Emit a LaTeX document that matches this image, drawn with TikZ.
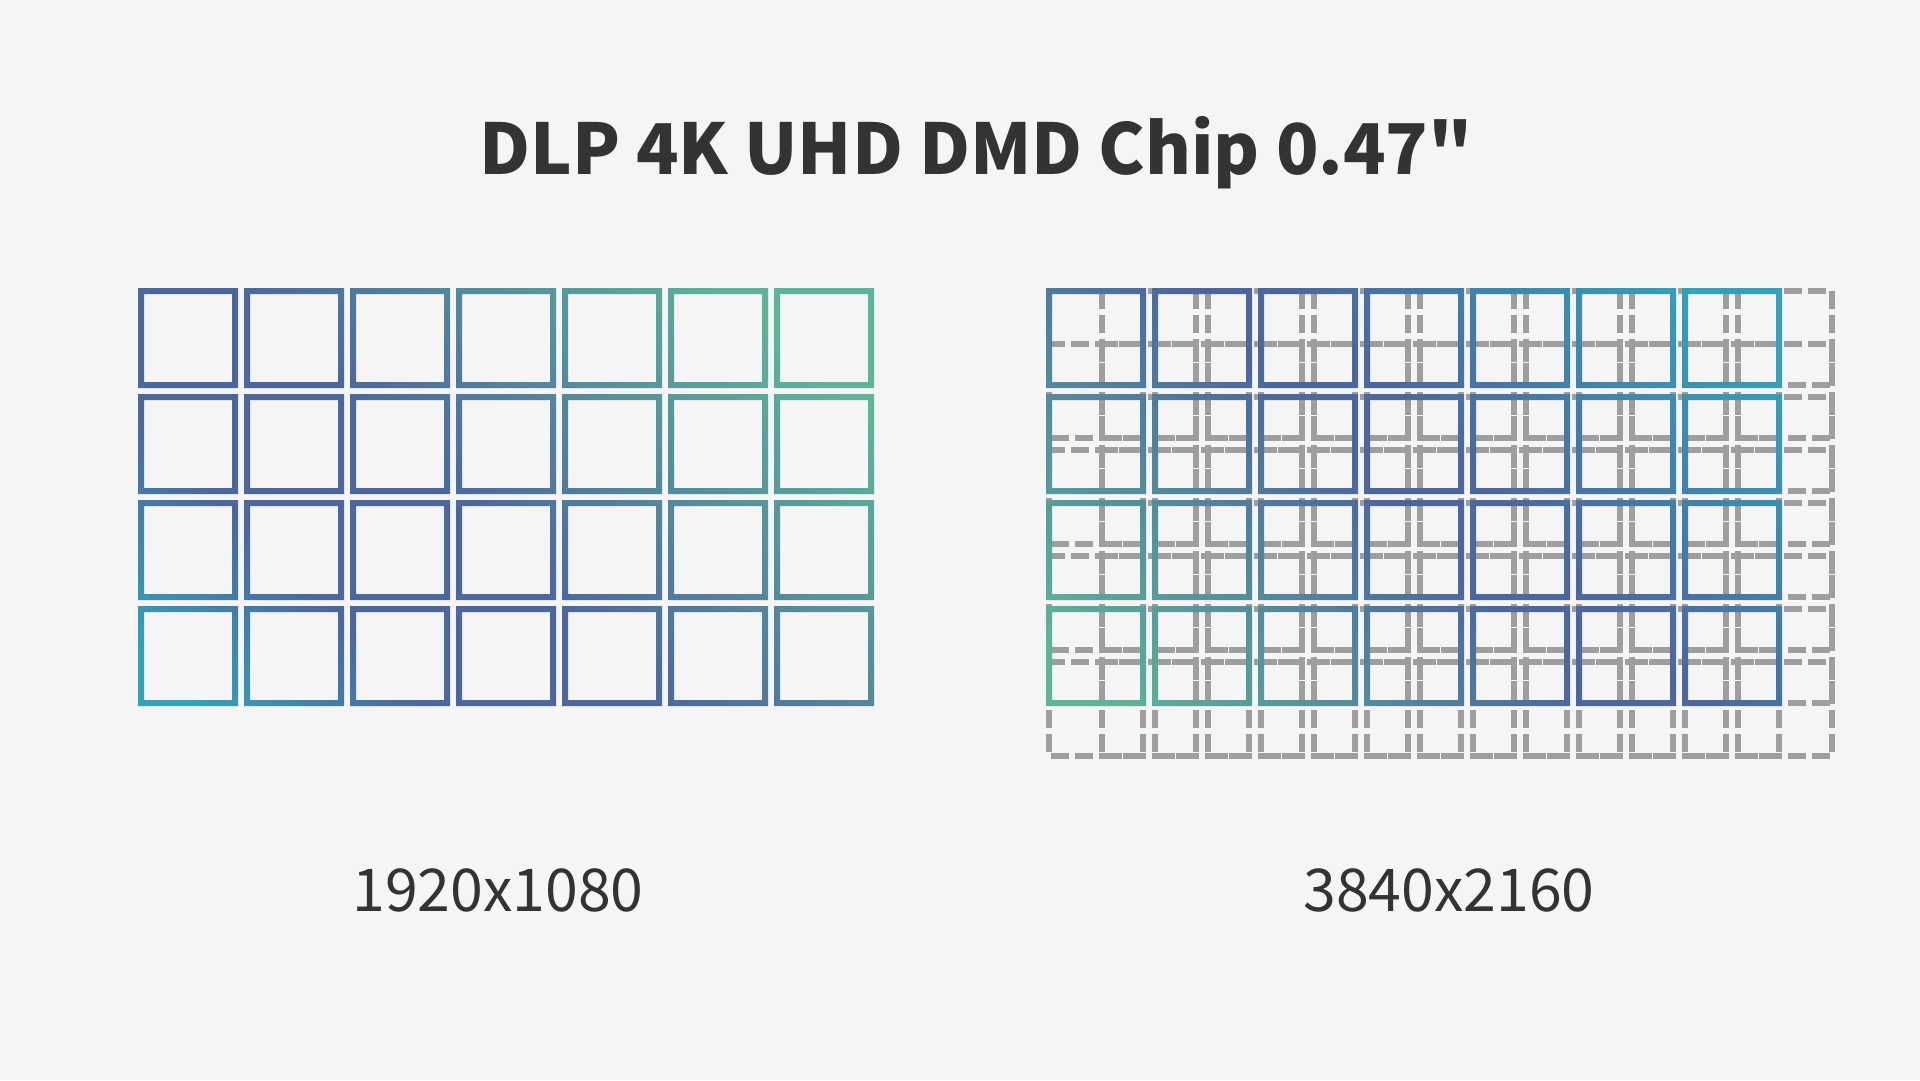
\documentclass[tikz,border=0pt]{standalone}
\usepackage{fontspec}
\newfontfamily\cjksans{Noto Sans CJK SC}
\usepackage{xcolor}
\definecolor{bgcol}{HTML}{F5F5F5}
\definecolor{inkcol}{HTML}{333333}
\definecolor{ghostcol}{HTML}{9E9E9E}
\definecolor{mirrorgreen}{HTML}{5DB49A}
\definecolor{mirrorblue}{HTML}{4C679C}
\definecolor{mirrorcyan}{HTML}{35A0B8}
\pgfdeclarehorizontalshading{lowgrad}{100bp}{color(0bp)=(mirrorgreen); color(29bp)=(mirrorgreen); color(52.8bp)=(mirrorblue); color(63.8bp)=(mirrorblue); color(74.8bp)=(mirrorcyan); color(100bp)=(mirrorcyan)}
\pgfdeclarehorizontalshading{highgrad}{100bp}{color(0bp)=(mirrorgreen); color(25.2bp)=(mirrorgreen); color(48.3bp)=(mirrorblue); color(54.4bp)=(mirrorblue); color(73.2bp)=(mirrorcyan); color(100bp)=(mirrorcyan)}

\begin{document}
\begin{tikzpicture}[
    x=1pt, y=-1pt,
    ghost/.style={draw=ghostcol, line width=6pt, dash pattern=on 18pt off 6pt},
    title/.style={font=\cjksans\bfseries\fontsize{70}{80}\selectfont, text=inkcol, anchor=base, inner sep=0pt},
    caption/.style={font=\cjksans\fontsize{59}{68}\selectfont, text=inkcol, anchor=base, inner sep=0pt}
]
    \fill[bgcol] (0,0) rectangle (1920,1080);
    \useasboundingbox (0,0) rectangle (1920,1080);

    \node[title] (title) at (976,174) {DLP 4K UHD DMD Chip 0.47"};

    % 1080p mirrors
    \begin{scope}[even odd rule]
        \clip \foreach \i in {0,...,6} { \foreach \j in {0,...,3} {
            (138+106*\i,288+106*\j) rectangle ++(100,100)
            (144+106*\i,294+106*\j) rectangle ++(88,88)}};
        \shade[shading=lowgrad, shading angle=225] (136,127) rectangle (876,867);
    \end{scope}

    % shifted 4K positions
    \foreach \dx in {0,53} \foreach \dy in {0,53} \foreach \i in {0,...,6} \foreach \j in {0,...,3}
        \draw[ghost] (1049+\dx+106*\i,291+\dy+106*\j) rectangle ++(94,94);

    \begin{scope}[even odd rule]
        \clip \foreach \i in {0,...,6} { \foreach \j in {0,...,3} {
            (1046+106*\i,288+106*\j) rectangle ++(100,100)
            (1052+106*\i,294+106*\j) rectangle ++(88,88)}};
        \shade[shading=highgrad, shading angle=45] (1044,127) rectangle (1784,867);
    \end{scope}

    \node[caption] (lowres) at (498,911) {1920x1080};
    \node[caption] (highres) at (1449,911) {3840x2160};
\end{tikzpicture}
\end{document}
